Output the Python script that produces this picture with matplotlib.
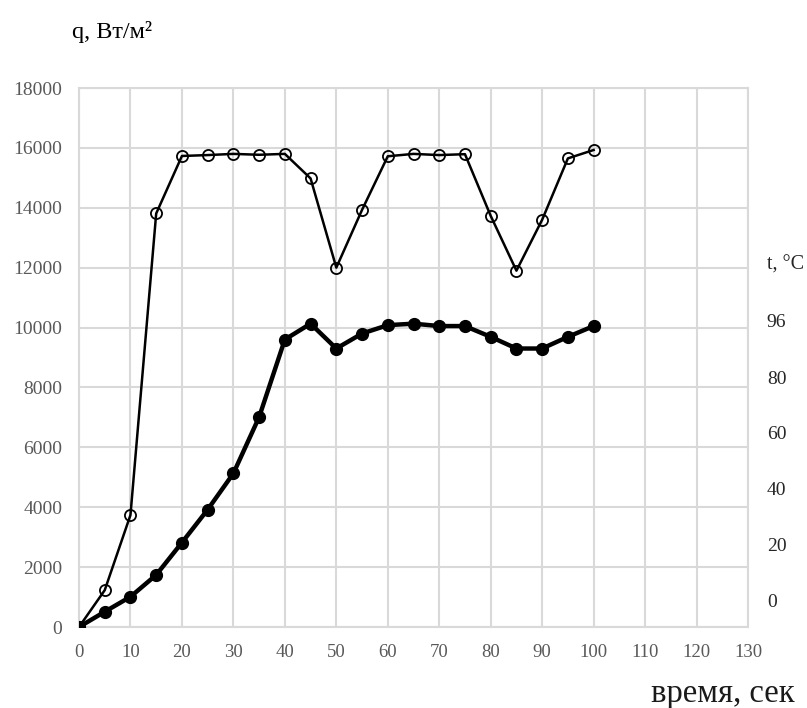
#---- q(t) and temperature vs time chart

import matplotlib
matplotlib.use("Agg")
import matplotlib.pyplot as plt

#---- Data
time_s = [0, 5, 10, 15, 20, 25, 30, 35, 40, 45, 50,
          55, 60, 65, 70, 75, 80, 85, 90, 95, 100]

# heat flux, W/m2 (open circles)
q_flux = [0, 1230, 3740, 13810, 15730, 15760, 15800, 15770, 15800, 14980, 12000,
          13930, 15720, 15800, 15760, 15790, 13730, 11900, 13600, 15650, 15930]

# temperature curve, drawn on the q grid (filled circles)
t_curve = [0, 510, 1010, 1740, 2820, 3920, 5130, 7010, 9600, 10130, 9300,
           9800, 10080, 10130, 10050, 10050, 9690, 9300, 9300, 9690, 10050]

# right-hand labels and where they sit on the q scale
t_labels = ["0", "20", "40", "60", "80", "96"]
t_label_pos = [870, 2740, 4610, 6480, 8320, 10220]

x_ticks = list(range(0, 131, 10))
y_ticks = list(range(0, 18001, 2000))

#---- Figure
plt.rcParams["font.family"] = ["Liberation Serif", "DejaVu Serif"]

fig = plt.figure(figsize=(8.07, 7.08), dpi=100)
ax = fig.add_axes([0.0979, 0.1144, 0.829, 0.7613])

grid_col = "#d9d9d9"
ax.set_xlim(0, 130)
ax.set_ylim(0, 18000)
ax.set_xticks(x_ticks)
ax.set_yticks(y_ticks)
ax.grid(True, color=grid_col, linewidth=1.5)
ax.set_axisbelow(True)
for s in ax.spines.values():
    s.set_color(grid_col)
    s.set_linewidth(1.5)
ax.tick_params(length=0, labelcolor="#595959")
ax.tick_params(axis="y", pad=12, labelsize=14)
ax.tick_params(axis="x", pad=12, labelsize=13.5)

#--- curves
ax.plot(time_s, t_curve, color="black", linewidth=3.2, marker="o",
        markersize=8.5, markerfacecolor="black", zorder=3)
ax.plot(time_s, q_flux, color="black", linewidth=1.8, marker="o",
        markersize=8, markerfacecolor="none", markeredgewidth=1.3, zorder=4)

#--- right labels
ax2 = ax.twinx()
ax2.set_ylim(0, 18000)
ax2.set_yticks(t_label_pos)
ax2.set_yticklabels(t_labels)
ax2.tick_params(length=0, labelsize=14, labelcolor="#262626", pad=13.5)
for s in ax2.spines.values():
    s.set_visible(False)

#--- axis titles
fig.text(0.089, 0.946, "q, Вт/м²", fontsize=17.5, ha="left", va="baseline")
fig.text(0.950, 0.619, "t, °C", fontsize=14.5, ha="left", va="baseline",
         color="#262626")
fig.text(0.985, 0.008, "время, сек", fontsize=23.5, ha="right", va="baseline",
         color="#1a1a1a")

fig.savefig("out.png", dpi=100)
